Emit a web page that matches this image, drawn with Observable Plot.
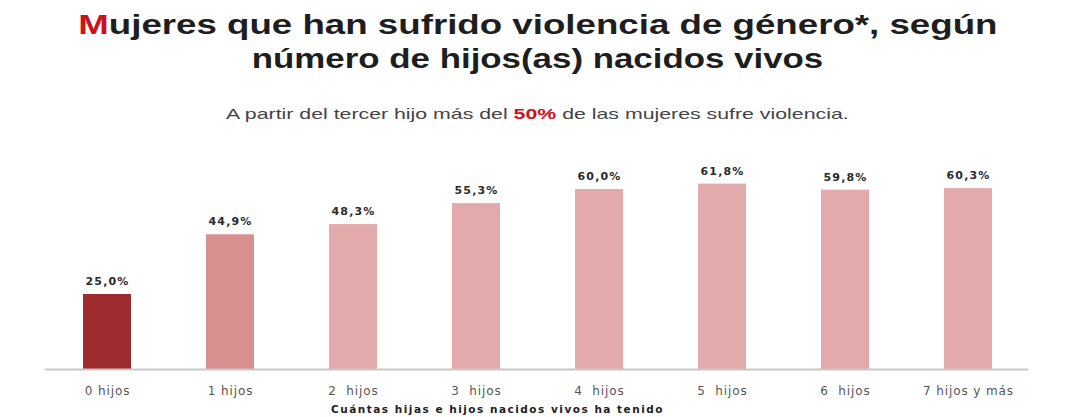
<!DOCTYPE html>
<html>
<head>
<meta charset="utf-8">
<script src="https://cdn.jsdelivr.net/npm/d3@7"></script>
<script src="https://cdn.jsdelivr.net/npm/@observablehq/plot@0.6"></script>
<style>
  html, body { margin: 0; padding: 0; background: #fff; }
  #wrap { position: relative; width: 1075px; height: 417px; overflow: hidden; }
  #title { position: absolute; left: 0; top: 8px; width: 1075px; text-align: center;
    font-family: "Liberation Sans", Arial, sans-serif; font-weight: bold; font-size: 28px;
    line-height: 34px; color: #1e1e1e; }
  #title span.l { display: inline-block; transform-origin: center; white-space: nowrap; }
  #title .m { color: #d0101a; }
  #sub { position: absolute; left: 0; top: 105px; width: 1075px; text-align: center;
    font-family: "Liberation Sans", Arial, sans-serif; font-size: 15px; color: #444; }
  #sub span { display: inline-block; transform: scaleX(1.42); transform-origin: center; white-space: nowrap; }
  #sub b { color: #d0101a; }
  #chart { position: absolute; left: 0; top: 140px; }
  #chart g[aria-label="x-axis tick label"] text { letter-spacing: 0.9px; }
</style>
</head>
<body>
<div id="wrap">
  <div id="title"><span class="l" style="transform: scaleX(1.31)"><span class="m">M</span>ujeres que han sufrido violencia de género*, según</span><br><span class="l" style="transform: scaleX(1.245)">número de hijos(as) nacidos vivos</span></div>
  <div id="sub"><span>A partir del tercer hijo más del <b>50%</b> de las mujeres sufre violencia.</span></div>
  <div id="chart"></div>
</div>
<script>
const categories = ["0 hijos", "1 hijos", "2  hijos", "3  hijos", "4  hijos", "5  hijos", "6  hijos", "7 hijos y más"];
const values = [25.0, 44.9, 48.3, 55.3, 60.0, 61.8, 59.8, 60.3];
const colors = ["#9e2b2d", "#d98f90", "#e2aaab", "#e2aaab", "#e2aaab", "#e2aaab", "#e2aaab", "#e2aaab"];
const valueLabels = ["25,0%", "44,9%", "48,3%", "55,3%", "60,0%", "61,8%", "59,8%", "60,3%"];
const axisTitle = "Cuántas hijas e hijos nacidos vivos ha tenido";

const data = categories.map((c, i) => ({cat: c, v: values[i], col: colors[i], lab: valueLabels[i]}));

const chart = Plot.plot({
  width: 1075,
  height: 277,
  marginLeft: 81,
  marginRight: 82,
  marginTop: 19,
  marginBottom: 48,
  style: {fontFamily: "'DejaVu Sans', Verdana, sans-serif", background: "transparent"},
  x: {domain: categories, paddingInner: 0.61, paddingOuter: 0, label: null},
  y: {domain: [0, 70], axis: null},
  marks: [
    Plot.barY(data, {x: "cat", y: "v", fill: "col"}),
    Plot.ruleY([0], {stroke: "#c8c8c8", strokeWidth: 2, insetLeft: -36, insetRight: -35}),
    Plot.text(data, {x: "cat", y: "v", text: "lab", dy: -13, fontSize: 11, fontWeight: "bold", fill: "#2a2a2a"}),
    Plot.axisX({tickSize: 0, tickPadding: 17, fontSize: 12, fill: "#555", label: null,
      tickFormat: d => d}),
    Plot.text([axisTitle], {frameAnchor: "bottom", dx: -40, dy: 43, text: d => d, fontSize: 10.5, fontWeight: "bold", fill: "#222"})
  ]
});
d3.select(chart).selectAll("text").each(function() {
  const t = this.textContent;
  if (valueLabels.includes(t)) this.style.letterSpacing = "1.2px";
  else if (t === axisTitle) this.style.letterSpacing = "1.5px";
});
document.getElementById("chart").appendChild(chart);
</script>
</body>
</html>
